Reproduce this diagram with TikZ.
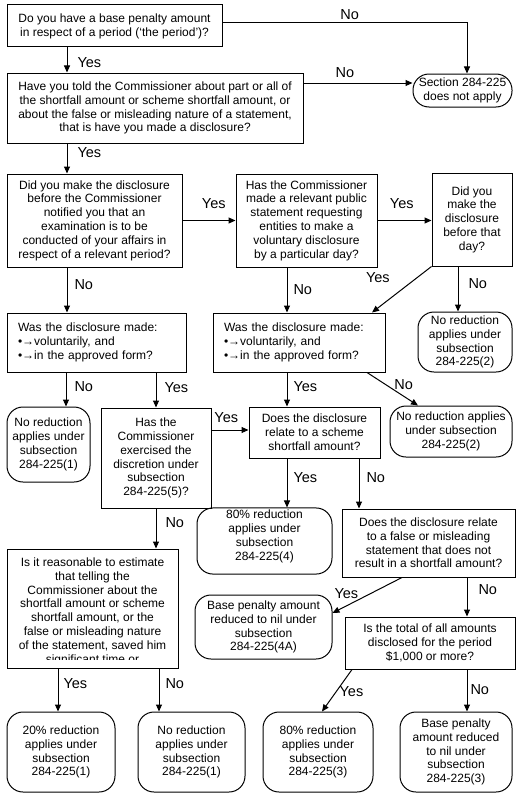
\documentclass[tikz,border=0pt]{standalone}
\usepackage{fontspec}
\setmainfont{Liberation Sans}
\usetikzlibrary{arrows.meta,positioning}

\begin{document}
\begin{tikzpicture}[x=1pt, y=-1pt,
    every node/.style={align=center, font=\fontsize{12}{13.8}\selectfont},
    qbox/.style={draw, line width=1pt, inner sep=2pt},
    endbox/.style={draw, line width=1pt, rounded corners=16pt, inner sep=2pt},
    lbl/.style={font=\fontsize{14.5}{16}\selectfont, inner sep=1pt},
    arr/.style={line width=1pt, -{Triangle[length=7pt,width=6pt]}}]
    \useasboundingbox (0,0) rectangle (525,800);

    % questions
    \node[qbox, minimum width=215, minimum height=42] (base) at (114.5,26) {Do you have a base penalty amount\\in respect of a period (‘the period’)?};
    \node[qbox, minimum width=296, minimum height=70] (told) at (155,108) {Have you told the Commissioner about part or all of\\the shortfall amount or scheme shortfall amount, or\\about the false or misleading nature of a statement,\\that is have you made a disclosure?};
    \node[endbox, minimum width=99, minimum height=33] (noapply) at (462.5,90.5) {Section 284-225\\does not apply};
    \node[qbox, minimum width=175, minimum height=93] (before) at (94.5,220.5) {Did you make the disclosure\\before the Commissioner\\notified you that an\\examination is to be\\conducted of your affairs in\\respect of a relevant period?};
    \node[qbox, minimum width=141, minimum height=93] (public) at (306.5,220.5) {Has the Commissioner\\made a relevant public\\statement requesting\\entities to make a\\voluntary disclosure\\by a particular day?};
    \node[qbox, minimum width=80, minimum height=93] (thatday) at (472,219.5) {Did you\\make the\\disclosure\\before that\\day?};
    \node[qbox, align=left, inner xsep=11pt, text width=157, minimum height=59] (formA) at (96.5,342.5) {Was the disclosure made:\\•→voluntarily, and\\•→in the approved form?};
    \node[qbox, align=left, inner xsep=11pt, text width=150, minimum height=59] (formB) at (299,342.5) {Was the disclosure made:\\•→voluntarily, and\\•→in the approved form?};
    \node[endbox, minimum width=94, minimum height=60] (noredA) at (465,342) {No reduction\\applies under\\subsection\\284-225(2)};
    \node[endbox, minimum width=83, minimum height=75] (noredB) at (48.5,444.5) {No reduction\\applies under\\subsection\\284-225(1)};
    \node[qbox, minimum width=110, minimum height=100] (discr) at (156,458) {Has the\\Commissioner\\exercised the\\discretion under\\subsection\\284-225(5)?};
    \node[qbox, minimum width=131, minimum height=51] (scheme) at (314.5,432.5) {Does the disclosure\\relate to a scheme\\shortfall amount?};
    \node[endbox, minimum width=122, minimum height=51] (noredC) at (451,431.5) {No reduction applies\\under subsection\\284-225(2)};
    \node[endbox, minimum width=135, minimum height=64, text depth=12pt] (eighty) at (264.5,541) {80\% reduction\\applies under\\subsection\\284-225(4)};
    \node[qbox, minimum width=173, minimum height=68] (falsest) at (428.5,543) {Does the disclosure relate\\to a false or misleading\\statement that does not\\result in a shortfall amount?};
    \node[qbox, minimum width=171, minimum height=119] (estim) at (92.5,608.5) {};
    \begin{scope}
        \clip ([yshift=9]estim.south west) rectangle (estim.north east);
        \node[anchor=north, inner sep=0pt] (estimtext) at ([yshift=-9]estim.north) {Is it reasonable to estimate\\that telling the\\Commissioner about the\\shortfall amount or scheme\\shortfall amount, or the\\false or misleading nature\\of the statement, saved him\\significant time or};
    \end{scope}
    \node[endbox, minimum width=137, minimum height=64] (nil) at (263.5,627) {Base penalty amount\\reduced to nil under\\subsection\\284-225(4A)};
    \node[qbox, minimum width=170, minimum height=52] (total) at (430,643) {Is the total of all amounts\\disclosed for the period\\\$1,000 or more?};

    % outcomes
    \node[endbox, minimum width=108, minimum height=80] (twenty) at (61,752) {20\% reduction\\applies under\\subsection\\284-225(1)};
    \node[endbox, minimum width=107, minimum height=80] (noredD) at (191.5,752) {No reduction\\applies under\\subsection\\284-225(1)};
    \node[endbox, minimum width=110, minimum height=80] (eightyB) at (318,752) {80\% reduction\\applies under\\subsection\\284-225(3)};
    \node[endbox, minimum width=112, minimum height=80] (nilB) at (456,752) {Base penalty\\amount reduced\\to nil under\\subsection\\284-225(3)};

    % arrows
    \draw[arr] ([xshift=-47.5]base.south) -- ([xshift=-47.5]base.south |- told.north) node[lbl, pos=.6, right=9pt] {Yes};
    \draw[arr] ([yshift=3]base.east) -| ([xshift=4.5]noapply.north) node[lbl, pos=.26, above=2pt] {No};
    \draw[arr] ([yshift=7.5]noapply.west -| told.east) -- ([yshift=7.5]noapply.west) node[lbl, pos=.38, above=4pt] {No};
    \draw[arr] ([xshift=-88]told.south) -- ([xshift=-88]told.south |- before.north) node[lbl, pos=.29, right=9pt] {Yes};
    \draw[arr] (before.east) -- (before.east -| public.west) node[lbl, pos=.59, above=10pt] {Yes};
    \draw[arr] (public.east) -- (public.east -| thatday.west) node[lbl, pos=.45, above=10pt] {Yes};
    \draw[arr] ([xshift=-27.5]before.south) -- ([xshift=-27.5]before.south |- formA.north) node[lbl, pos=.39, right=6pt] {No};
    \draw[arr] ([xshift=-19.5]public.south) -- ([xshift=-19.5]public.south |- formB.north) node[lbl, pos=.5, right=5pt] {No};
    \draw[arr] (thatday.south west) -- ([xshift=73]formB.north) node[lbl, pos=.24, left=26pt] {Yes};
    \draw[arr] ([xshift=-14]thatday.south) -- ([xshift=-14]thatday.south |- noredA.north) node[lbl, pos=.39, right=9pt] {No};
    \draw[arr] ([xshift=-30.5]formA.south) -- ([xshift=-30.5]formA.south |- noredB.north) node[lbl, pos=.4, right=7pt] {No};
    \draw[arr] (formA.south -| discr.north) -- (discr.north) node[lbl, pos=.44, right=7pt] {Yes};
    \draw[arr] ([xshift=-12]formB.south) -- ([xshift=-12]formB.south |- scheme.north) node[lbl, pos=.4, right=5pt] {Yes};
    \draw[arr] ([xshift=68]formB.south) -- ([xshift=-33]noredC.north) node[lbl, pos=.72, above=5pt] {No};
    \draw[arr] ([yshift=28]discr.east) -- ([yshift=28]discr.east -| scheme.west) node[lbl, pos=.4, above=6pt] {Yes};
    \draw[arr] ([xshift=-27.5]scheme.south) -- ([xshift=-27.5]scheme.south |- eighty.north) node[lbl, pos=.39, right=5pt] {Yes};
    \draw[arr] ([xshift=44.5]scheme.south) -- ([xshift=44.5]scheme.south |- falsest.north) node[lbl, pos=.39, right=6pt] {No};
    \draw[arr] (discr.south) -- (discr.south |- estim.north) node[lbl, pos=.34, right=8pt] {No};
    \draw[arr] ([xshift=-26.5]falsest.south) -- ([yshift=14]nil.east) node[lbl, pos=.8, above=6pt] {Yes};
    \draw[arr] ([xshift=38.5]falsest.south) -- ([xshift=38.5]falsest.south |- total.north) node[lbl, pos=.3, right=10pt] {No};
    \draw[arr] ([xshift=-34.5]estim.south) -- ([xshift=-34.5]estim.south |- twenty.north) node[lbl, pos=.34, right=4pt] {Yes};
    \draw[arr] ([xshift=66.5]estim.south) -- ([xshift=66.5]estim.south |- noredD.north) node[lbl, pos=.34, right=5pt] {No};
    \draw[arr] ([xshift=-78]total.south) -- ([xshift=4]eightyB.north) node[lbl, pos=.53, right=2pt] {Yes};
    \draw[arr] ([xshift=37]total.south) -- ([xshift=37]total.south |- nilB.north) node[lbl, pos=.47, right=2pt] {No};
\end{tikzpicture}
\end{document}
